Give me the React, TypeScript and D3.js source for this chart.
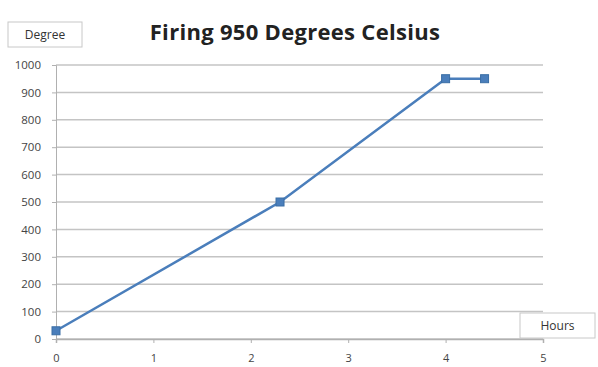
import React, { useEffect, useRef } from "react";
import * as d3 from "d3";

// firing schedule: hours vs degrees
const hours: number[] = [0, 2.3, 4, 4.4];
const degrees: number[] = [30, 500, 950, 950];
const yTicks: number[] = [0, 100, 200, 300, 400, 500, 600, 700, 800, 900, 1000];
const xTicks: number[] = [0, 1, 2, 3, 4, 5];

function drawChart(node: SVGSVGElement) {
  const width = 598;
  const height = 367;
  const margin = { top: 65, right: 55, bottom: 28, left: 56 };
  const font = "'Open Sans', 'DejaVu Sans', sans-serif";

  const svg = d3.select(node);
  svg.selectAll("*").remove();

  const x = d3.scaleLinear().domain([0, 5]).range([margin.left, width - margin.right]);
  const y = d3.scaleLinear().domain([0, 1000]).range([height - margin.bottom, margin.top]);

  svg.append("rect").attr("width", width).attr("height", height).attr("fill", "#fff");

  // horizontal grid
  svg
    .append("g")
    .selectAll("line")
    .data(yTicks)
    .enter()
    .append("line")
    .attr("x1", x(0))
    .attr("x2", x(5))
    .attr("y1", (d) => y(d))
    .attr("y2", (d) => y(d))
    .attr("stroke", "#c4c4c4")
    .attr("stroke-width", 1.5);

  // y axis
  const yAxis = svg
    .append("g")
    .attr("transform", `translate(${x(0)},0)`)
    .call(d3.axisLeft(y).tickValues(yTicks).tickSize(4).tickPadding(11).tickFormat(d3.format("d")));
  yAxis.select(".domain").attr("stroke", "#b0b0b0");
  yAxis.selectAll(".tick line").attr("stroke", "#b0b0b0");
  yAxis
    .selectAll("text")
    .attr("fill", "#444")
    .style("font-family", font)
    .style("font-size", "11.5px");

  // x axis
  const xAxis = svg
    .append("g")
    .attr("transform", `translate(0,${y(0)})`)
    .call(d3.axisBottom(x).tickValues(xTicks).tickSize(4).tickPadding(11).tickFormat(d3.format("d")));
  xAxis.select(".domain").attr("stroke", "#b0b0b0").attr("stroke-width", 1.5);
  xAxis.selectAll(".tick line").attr("stroke", "#b0b0b0");
  xAxis
    .selectAll("text")
    .attr("fill", "#444")
    .style("font-family", font)
    .style("font-size", "11px");

  // series line
  const pts: [number, number][] = hours.map((h, i) => [h, degrees[i]]);
  const line = d3
    .line<[number, number]>()
    .x((d) => x(d[0]))
    .y((d) => y(d[1]));
  svg
    .append("path")
    .datum(pts)
    .attr("d", line)
    .attr("fill", "none")
    .attr("stroke", "#4a7ebb")
    .attr("stroke-width", 2.5);

  svg
    .append("g")
    .selectAll("rect")
    .data(pts)
    .enter()
    .append("rect")
    .attr("x", (d) => x(d[0]) - 4)
    .attr("y", (d) => y(d[1]) - 4)
    .attr("width", 8)
    .attr("height", 8)
    .attr("fill", "#4a7ebb")
    .attr("stroke", "#3a6ea5");

  // title
  svg
    .append("text")
    .attr("x", 295)
    .attr("y", 40)
    .attr("text-anchor", "middle")
    .style("font-family", font)
    .style("font-size", "22px")
    .style("font-weight", "bold")
    .style("letter-spacing", "0.3px")
    .attr("fill", "#222")
    .text("Firing 950 Degrees Celsius");

  // axis title boxes
  const boxes = [
    { label: "Degree", bx: 8, by: 22, bw: 74, bh: 25 },
    { label: "Hours", bx: 520, by: 313, bw: 75, bh: 25 },
  ];
  boxes.forEach((b) => {
    svg
      .append("rect")
      .attr("x", b.bx)
      .attr("y", b.by)
      .attr("width", b.bw)
      .attr("height", b.bh)
      .attr("fill", "#fff")
      .attr("stroke", "#c8c8c8");
    svg
      .append("text")
      .attr("x", b.bx + b.bw / 2)
      .attr("y", b.by + b.bh / 2 + 4)
      .attr("text-anchor", "middle")
      .style("font-family", font)
      .style("font-size", "12px")
      .attr("fill", "#333")
      .text(b.label);
  });
}

const App = () => {
  const ref = useRef<SVGSVGElement>(null);
  useEffect(() => {
    if (ref.current) drawChart(ref.current);
  }, []);
  return (
    <svg
      ref={ref}
      width={598}
      height={367}
      style={{ position: "absolute", left: 0, top: 0, display: "block" }}
    />
  );
};

export default App;
